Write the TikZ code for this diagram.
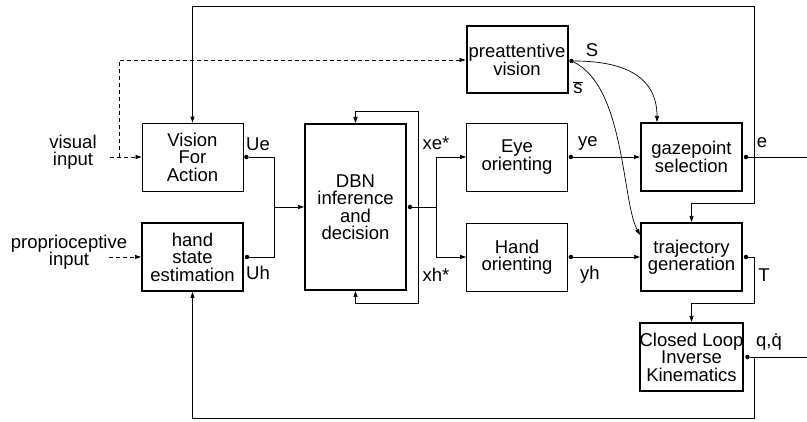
\documentclass[tikz,border=0pt]{standalone}
\usepackage{fontspec}
\setmainfont{Liberation Sans}
\usepackage{tikz}
\usetikzlibrary{positioning,calc,arrows.meta}

\tikzset{
  blk/.style={draw, line width=0.8pt, minimum width=101pt, minimum height=68pt, inner sep=0pt, align=center, font=\fontsize{18.5}{17.5}\selectfont},
  thickblk/.style={blk, line width=2pt},
  conn/.style={line width=0.7pt},
  arr/.style={conn, -{Triangle[length=6pt,width=4pt]}},
  dashconn/.style={arr, dash pattern=on 4pt off 3pt},
  lbl/.style={inner sep=0pt, align=center, font=\fontsize{18.5}{17.5}\selectfont},
  dot/.style={circle, fill, inner sep=0pt, minimum size=4.5pt}
}

\begin{document}
\begin{tikzpicture}[x=1pt,y=1pt]
    \useasboundingbox (0,0) rectangle (807,422);

    % Blocks
    \node[blk] (vfa) at (192.5,265) {Vision\\For\\Action};
    \node[thickblk] (hse) at (192.5,165) {hand\\state\\estimation};
    \node[thickblk, minimum height=166pt] (dbn) at (355.5,215) {DBN\\inference\\and\\decision};
    \node[thickblk, minimum height=67pt] (pre) at (517,362) {preattentive\\vision};
    \node[blk] (eye) at (517,265) {Eye\\orienting};
    \node[blk] (hand) at (517,165) {Hand\\orienting};
    \node[thickblk] (gaze) at (691.5,265) {gazepoint\\selection};
    \node[thickblk] (traj) at (691.5,165) {trajectory\\generation};
    \node[thickblk] (clik) at (691.5,65) {Closed Loop\\Inverse\\Kinematics};

    % Output dots
    \node[dot] (ue) at ([xshift=3pt]vfa.east) {};
    \node[dot] (uh) at ([xshift=3pt]hse.east) {};
    \node[dot] (dbno) at ([xshift=3pt]dbn.east) {};
    \node[dot] (preo) at ([xshift=3pt,yshift=-1pt]pre.east) {};
    \node[dot] (yeo) at ([xshift=3pt]eye.east) {};
    \node[dot] (yho) at ([xshift=3pt]hand.east) {};
    \node[dot] (gazeo) at ([xshift=3pt]gaze.east) {};
    \node[dot] (trajo) at ([xshift=3pt]traj.east) {};
    \node[dot] (clko) at ([xshift=3pt]clik.east) {};

    % Inputs
    \node[lbl] (vis) at (73,270) {visual\\input};
    \node[lbl] (prop) at (69,170) {proprioceptive\\input};
    \coordinate (visin) at (110,265);
    \coordinate (vsplit) at (119,265);
    \coordinate (propin) at (109,165);
    \draw[dashconn] (visin) -- (vfa.west);
    \draw[dashconn] (vsplit) |- (pre.west);
    \draw[dashconn] (propin) -- (hse.west);

    % Into the DBN block
    \coordinate (ujoin) at (274,215);
    \draw[conn] (ue) -| (ujoin);
    \draw[conn] (uh) -| (ujoin);
    \draw[arr] (ujoin) -- (dbn.west);

    % DBN loops
    \coordinate (loopt) at (418,311);
    \coordinate (loopb) at (418,119);
    \draw[arr] (dbno) -| (loopt) -| (dbn.north);
    \draw[arr] (dbno) -| (loopb) -| (dbn.south);

    % Orienting
    \coordinate (xjoin) at (436,215);
    \draw[conn] (dbno) -- (xjoin);
    \draw[arr] (xjoin) |- (eye.west);
    \draw[arr] (xjoin) |- (hand.west);
    \draw[arr] (yeo) -- (gaze.west);
    \draw[arr] (yho) -- (traj.west);

    % Saliency
    \coordinate (gin) at ([xshift=-34.5pt]gaze.north);
    \coordinate (tin) at ([yshift=22pt]traj.west);
    \draw[arr] (preo) .. controls (625,361) and (657,345) .. (gin);
    \draw[arr] (preo) .. controls (625,335) and (622,220) .. (tin);

    % Feedback on the right
    \coordinate (ej) at (754,265);
    \coordinate (etop) at (754,416);
    \coordinate (ed) at (754,219);
    \coordinate (eright) at (807,265);
    \draw[conn] (gazeo) -- (eright);
    \draw[arr] (ej) -- (etop) -| (vfa.north);
    \draw[arr] (ej) -- (ed) -| (traj.north);
    \coordinate (tj) at (754,119);
    \draw[arr] (trajo) -| (tj) -| (clik.north);
    \coordinate (qj) at (754,65);
    \coordinate (qb) at (754,4);
    \coordinate (qright) at (807,65);
    \draw[conn] (clko) -- (qright);
    \draw[arr] (qj) -- (qb) -| (hse.south);

    % Signal names
    \node[lbl] (lue) at (258,278) {Ue};
    \node[lbl] (luh) at (258,149) {Uh};
    \node[lbl] (lxe) at (436,279) {xe*};
    \node[lbl] (lxh) at (436,147) {xh*};
    \node[lbl] (lye) at (588,279) {ye};
    \node[lbl] (lyh) at (590,147) {yh};
    \node[lbl] (ls) at (592,372) {S};
    \node[lbl] (lsb) at (578,334) {$\overline{\mbox{s}}$};
    \node[lbl] (le) at (762,279) {e};
    \node[lbl] (lt) at (764,147) {T};
    \node[lbl] (lq) at (769,80) {q,\.{q}};
\end{tikzpicture}
\end{document}
